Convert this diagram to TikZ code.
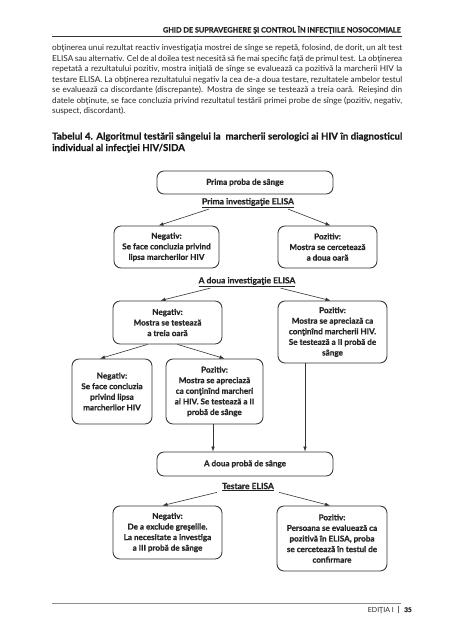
\documentclass[tikz,border=0pt]{standalone}
\usepackage{fontspec}
\setmainfont{Lato}[BoldFeatures={FakeBold=0.7}]
\usetikzlibrary{arrows.meta}
\definecolor{txt}{gray}{0.15}
\definecolor{boxline}{gray}{0.2}
\begin{document}
\begin{tikzpicture}[x=1pt,y=-1pt,
  box/.style={draw=boxline, line width=0.85pt, rounded corners=7pt, align=center,
    inner sep=1pt, text=txt, font=\bfseries\fontsize{8.1}{10.6}\selectfont},
  lbl/.style={text=txt, inner sep=1pt, font=\bfseries\fontsize{8.5}{9}\selectfont},
  para/.style={anchor=base west, inner sep=0pt, text=txt, font=\fontsize{8.2}{10}\selectfont},
  ttl/.style={anchor=base west, inner sep=0pt, text=black!90, font=\bfseries\fontsize{9.6}{11}\selectfont},
  arr/.style={draw=boxline, line width=0.6pt, -{Latex[length=5pt,width=3.6pt]}}]
\fill[white] (0,0) rectangle (453,640);
\useasboundingbox (0,0) rectangle (453,640);

% header
\node[anchor=base east, inner sep=0pt, text=txt, font=\bfseries\fontsize{7.3}{8}\selectfont] (hdr) at (401,32.5)
  {GHID DE SUPRAVEGHERE ŞI CONTROL ÎN INFECŢIILE NOSOCOMIALE};
\coordinate (hl) at (52,36);
\coordinate (hr) at (402,36);
\draw[line width=0.9pt, black!80] (hl) -- (hr);

% paragraph
\node[para] (p1) at (52,50.5) {\makebox[350pt][s]{obţinerea unui rezultat reactiv investigaţia mostrei de sînge se repetă, folosind, de dorit, un alt test}};
\node[para] (p2) at (52,61) {\makebox[350pt][s]{ELISA sau alternativ. Cel de al doilea test necesită să fie mai specific faţă de primul test. La obţinerea}};
\node[para] (p3) at (52,71.5) {\makebox[350pt][s]{repetată a rezultatului pozitiv, mostra iniţială de sînge se evaluează ca pozitivă la marcherii HIV la}};
\node[para] (p4) at (52,82) {\makebox[350pt][s]{testare ELISA. La obţinerea rezultatului negativ la cea de-a doua testare, rezultatele ambelor testul}};
\node[para] (p5) at (52,92.5) {\makebox[350pt][s]{se evaluează ca discordante (discrepante). Mostra de sînge se testează a treia oară. Reieşind din}};
\node[para] (p6) at (52,103) {\makebox[350pt][s]{datele obţinute, se face concluzia privind rezultatul testării primei probe de sînge (pozitiv, negativ,}};
\node[para] (p7) at (52,113.5) {suspect, discordant).};

% title
\node[ttl] (t1) at (52,139.5) {\makebox[350pt][s]{Tabelul 4. Algoritmul testării sângelui la \ marcherii serologici ai HIV în diagnosticul}};
\node[ttl] (t2) at (52,151) {individual al infecţiei HIV/SIDA};

% diagram
\node[box, minimum width=176pt, minimum height=23pt] (b1) at (245,182.5) {Prima proba de sânge};
\node[lbl] (l1) at (248,203) {\underline{Prima investigaţie ELISA}};
\node[box, minimum width=105pt, minimum height=42pt] (n1) at (166.5,247) {Negativ:\\Se face concluzia privind\\lipsa marcherilor HIV};
\node[box, minimum width=99pt, minimum height=42pt] (q1) at (327.5,247) {Pozitiv:\\Mostra se cercetează\\a doua oară};

\node[lbl] (l2) at (247,282) {\underline{A doua investigaţie ELISA}};
\node[box, minimum width=109pt, minimum height=43pt] (n2) at (167.5,322.5) {Negativ:\\Mostra se testează\\a treia oară};
\node[box, minimum width=109pt, minimum height=62pt] (q2) at (332.5,332) {Pozitiv:\\Mostra se apreciază ca\\conţinînd marcherii HIV.\\Se testează a II probă de\\sânge};

\node[box, minimum width=80pt, minimum height=65pt] (n3) at (112,391.5) {Negativ:\\Se face concluzia\\privind lipsa\\marcherilor HIV};
\node[box, minimum width=97pt, minimum height=65pt] (q3) at (214.5,391.5) {Pozitiv:\\Mostra se apreciază\\ca conţinînd marcheri\\ai HIV. Se testează a II\\probă de sânge};

\node[box, minimum width=176pt, minimum height=24pt] (b4) at (245,464) {A doua probă de sânge};
\node[lbl] (l3) at (248,487) {\underline{Testare ELISA}};
\node[box, minimum width=109pt, minimum height=53pt] (n4) at (167.5,532.5) {Negativ:\\De a exclude greşelile.\\La necesitate a investiga\\a III probă de sânge};
\node[box, minimum width=110pt, minimum height=65pt] (q4) at (332,538.5) {Pozitiv:\\Persoana se evaluează ca\\pozitivă în ELISA, proba\\se cercetează în testul de\\confirmare};

% arrows
\draw[arr] ([xshift=8pt]l1.south west) -- ([xshift=-8pt]n1.north);
\draw[arr] ([xshift=-7pt]l1.south east) -- ([xshift=3pt]q1.north);
\draw[arr] ([xshift=13pt]l2.south west) -- ([xshift=-7pt]n2.north);
\draw[arr] ([xshift=-16pt]l2.south east) -- ([xshift=-2pt]q2.north);
\draw[arr] ([xshift=-20pt]n2.south) -- ([xshift=-12pt]n3.north);
\draw[arr] ([xshift=10pt]n2.south) -- ([xshift=10pt]q3.north);
\draw[arr] ([xshift=-1.5pt]q3.south) -- ([xshift=-1.5pt]q3.south |- b4.north);
\draw[arr] ([xshift=-27.5pt]q2.south) -- ([xshift=-27.5pt]q2.south |- b4.north);
\draw[arr] ([xshift=-4pt]l3.south west) -- ([xshift=-5pt]n4.north);
\draw[arr] ([xshift=4pt]l3.south east) -- ([xshift=-2pt]q4.north);

% footer
\coordinate (fl) at (52,603.5);
\coordinate (fr) at (401,603.5);
\draw[line width=1.2pt, black!45] (fl) -- (fr);
\node[anchor=base east, inner sep=0pt, text=txt, font=\fontsize{7}{8}\selectfont] (ed) at (394,612) {EDIŢIA I};
\node[anchor=base west, inner sep=0pt, text=txt, font=\bfseries\fontsize{6.5}{8}\selectfont] (pg) at (404,612) {35};
\coordinate (sa) at (398.5,605.5);
\coordinate (sb) at (398.5,613);
\draw[line width=0.4pt, black!60] (sa) -- (sb);
\end{tikzpicture}
\end{document}
